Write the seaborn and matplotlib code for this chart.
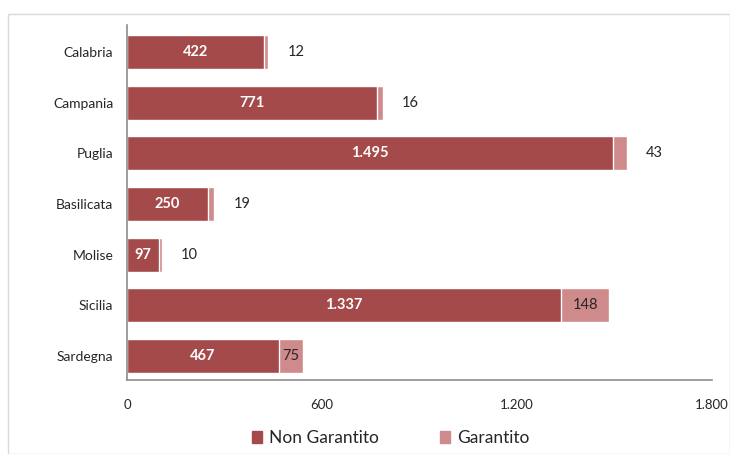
import pandas as pd
import seaborn as sns
import matplotlib.pyplot as plt
from matplotlib.patches import Rectangle, Patch

regioni = ['Calabria', 'Campania', 'Puglia', 'Basilicata', 'Molise',
           'Sicilia', 'Sardegna']
non_garantito = [422, 771, 1495, 250, 97, 1337, 467]
garantito = [12, 16, 43, 19, 10, 148, 75]
x_ticks = [0, 600, 1200, 1800]

DARK = '#A54A4A'
LIGHT = '#CF8B8B'


def fmt(v):
    # Italian thousands separator
    return f'{v:,}'.replace(',', '.')


def main():
    sns.set_style('white')
    plt.rcParams['font.family'] = ['Lato', 'DejaVu Sans']

    df = pd.DataFrame({'regione': regioni,
                       'non': non_garantito,
                       'gar': garantito})
    df['tot'] = df['non'] + df['gar']

    fig = plt.figure(figsize=(7.3, 4.54), dpi=100)
    ax = fig.add_axes([0.174, 0.163, 0.801, 0.782])

    # light gray frame around the chart
    fig.patches.append(Rectangle((0.011, 0.0), 0.989, 0.969,
                                 transform=fig.transFigure, fill=False,
                                 edgecolor='#D9D9D9', linewidth=1))

    sns.barplot(data=df, x='tot', y='regione', color=LIGHT, width=0.67,
                saturation=1, edgecolor='white', linewidth=1, ax=ax,
                orient='h')
    sns.barplot(data=df, x='non', y='regione', color=DARK, width=0.67,
                saturation=1, edgecolor='white', linewidth=1, ax=ax,
                orient='h')

    for i, row in df.iterrows():
        ax.text(row['non'] / 2, i, fmt(row['non']), ha='center',
                va='center', color='white', fontweight='bold', fontsize=10.5)
        if row['gar'] >= 60:
            ax.text(row['non'] + row['gar'] / 2, i, fmt(row['gar']),
                    ha='center', va='center', color='#262626', fontsize=10.5)
        else:
            ax.annotate(fmt(row['gar']), (row['tot'], i),
                        xytext=(14, 0), textcoords='offset points',
                        ha='left', va='center', color='#262626',
                        fontsize=10.5)

    ax.set_xlim(0, 1800)
    ax.set_ylim(6.47, -0.53)
    ax.set_xticks(x_ticks)
    ax.set_xticklabels([fmt(t) for t in x_ticks])
    ax.set_xlabel('')
    ax.set_ylabel('')
    ax.tick_params(axis='x', length=0, pad=14, labelsize=9.5,
                   colors='#262626')
    ax.tick_params(axis='y', length=0, pad=10, labelsize=10,
                   colors='#262626')

    for side in ['top', 'right']:
        ax.spines[side].set_visible(False)
    for side in ['left', 'bottom']:
        ax.spines[side].set_color('#8C8C8C')
        ax.spines[side].set_linewidth(1.2)

    handles = [Patch(color=DARK, label='Non Garantito'),
               Patch(color=LIGHT, label='Garantito')]
    fig.legend(handles=handles, loc='center', ncol=2,
               bbox_to_anchor=(0.535, 0.035), frameon=False, fontsize=12.5,
               handlelength=0.6, handleheight=0.6, handletextpad=0.4,
               columnspacing=3.5, labelcolor='#262626')

    fig.savefig('out.png', dpi=100)


if __name__ == '__main__':
    main()
